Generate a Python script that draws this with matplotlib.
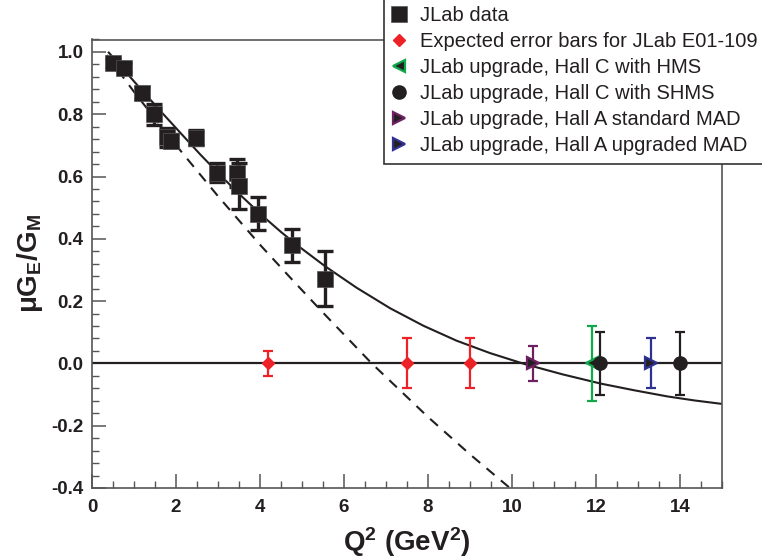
import matplotlib
matplotlib.use("Agg")
import matplotlib.pyplot as plt
from matplotlib.patches import Rectangle
from matplotlib.ticker import MultipleLocator, FormatStrFormatter

plt.rcParams['font.family'] = ['Liberation Sans', 'DejaVu Sans']
plt.rcParams['mathtext.fontset'] = 'custom'
plt.rcParams['mathtext.rm'] = 'Liberation Sans'
plt.rcParams['mathtext.bf'] = 'Liberation Sans:bold'
plt.rcParams['mathtext.it'] = 'Liberation Sans:italic'

# ---- existing JLab data ----
jlab_q2 = [0.49, 0.77, 1.18, 1.48, 1.78, 1.87, 2.47, 2.97, 3.46, 3.50, 3.96, 4.75, 5.55]
jlab_r = [0.965, 0.950, 0.868, 0.800, 0.726, 0.715, 0.725, 0.612, 0.612, 0.570, 0.480, 0.380, 0.272]
jlab_err = [0.012, 0.015, 0.02, 0.034, 0.03, 0.02, 0.025, 0.03, 0.044, 0.075, 0.053, 0.053, 0.088]

# ---- projected measurements (at ratio 0) ----
e01_q2 = [4.2, 7.5, 9.0]
e01_r = [0.0, 0.0, 0.0]
e01_err = [0.04, 0.08, 0.08]

hms_q2 = [11.9]
hms_r = [0.0]
hms_err = [0.12]

shms_q2 = [12.1, 14.0]
shms_r = [0.0, 0.0]
shms_err = [0.10, 0.10]

mad_std_q2 = [10.5]
mad_std_r = [0.0]
mad_std_err = [0.055]

mad_upg_q2 = [13.3]
mad_upg_r = [0.0]
mad_upg_err = [0.08]

# ---- curves ----
solid_q2 = [0.4, 0.75, 1.2, 1.7, 2.1, 2.57, 3.1, 3.6, 4.1, 4.5, 4.91, 5.55, 6.3, 7.1,
            7.89, 8.68, 9.48, 10.3, 11.2, 12.12, 12.9, 13.7, 14.35, 15.0]
solid_r = [0.998, 0.944, 0.875, 0.800, 0.741, 0.672, 0.598, 0.532, 0.469, 0.422, 0.377,
           0.312, 0.243, 0.177, 0.121, 0.073, 0.033, -0.002, -0.035, -0.065, -0.086, -0.106,
           -0.119, -0.130]

dashed_q2 = [0.35, 1.0, 1.5, 2.15, 3.0, 4.0, 4.71, 5.5, 6.66, 8.0, 9.0, 9.95]
dashed_r = [0.99, 0.872, 0.786, 0.676, 0.537, 0.381, 0.277, 0.163, 0.0, -0.172, -0.292, -0.40]

x_ticks = [0, 2, 4, 6, 8, 10, 12, 14]
y_ticks = [-0.4, -0.2, 0.0, 0.2, 0.4, 0.6, 0.8, 1.0]

labels = ["JLab data", "Expected error bars for JLab E01-109",
          "JLab upgrade, Hall C with HMS", "JLab upgrade, Hall C with SHMS",
          "JLab upgrade, Hall A standard MAD", "JLab upgrade, Hall A upgraded MAD"]

BLACK = '#231f20'
RED = '#ec2227'
GREEN = '#10a84a'
PURPLE = '#6e2161'
BLUE = '#2e3192'

fig = plt.figure(figsize=(7.62, 5.60), dpi=100)
ax = fig.add_axes([92/762, 1 - 488/560, 630/762, 448.5/560])

ax.set_xlim(0, 15)
ax.set_ylim(-0.4, 1.04)

# curves
ax.axhline(0.0, color=BLACK, lw=1.6, zorder=2)
ax.plot(solid_q2, solid_r, color=BLACK, lw=1.5, zorder=2)
ax.plot(dashed_q2, dashed_r, color=BLACK, lw=1.5, ls=(0, (5, 4)), zorder=2)

# error bars
ax.errorbar(jlab_q2, jlab_r, yerr=jlab_err, fmt='none', ecolor=BLACK, elinewidth=2.4,
            capsize=6, capthick=2.4, zorder=3)
ax.errorbar(e01_q2, e01_r, yerr=e01_err, fmt='none', ecolor=RED, elinewidth=1.6,
            capsize=3.8, capthick=1.6, zorder=3)
ax.errorbar(hms_q2, hms_r, yerr=hms_err, fmt='none', ecolor=GREEN, elinewidth=1.6,
            capsize=3.8, capthick=1.6, zorder=3)
ax.errorbar(shms_q2, shms_r, yerr=shms_err, fmt='none', ecolor=BLACK, elinewidth=1.6,
            capsize=3.8, capthick=1.6, zorder=3)
ax.errorbar(mad_std_q2, mad_std_r, yerr=mad_std_err, fmt='none', ecolor=PURPLE, elinewidth=1.6,
            capsize=3.8, capthick=1.6, zorder=3)
ax.errorbar(mad_upg_q2, mad_upg_r, yerr=mad_upg_err, fmt='none', ecolor=BLUE, elinewidth=1.6,
            capsize=3.8, capthick=1.6, zorder=3)

# markers
h1, = ax.plot(jlab_q2, jlab_r, ls='none', marker='s', ms=11, mfc=BLACK, mec='#555555',
              mew=0.5, zorder=4, label=labels[0])
h2, = ax.plot(e01_q2, e01_r, ls='none', marker='D', ms=6.5, mfc=RED, mec=RED, zorder=4,
              label=labels[1])
h3, = ax.plot(hms_q2, hms_r, ls='none', marker='<', ms=9, mfc=BLACK, mec=GREEN, mew=1.6,
              zorder=4, label=labels[2])
h4, = ax.plot(shms_q2, shms_r, ls='none', marker='o', ms=9.5, mfc=BLACK, mec=BLACK, zorder=5,
              label=labels[3])
h5, = ax.plot(mad_std_q2, mad_std_r, ls='none', marker='>', ms=9, mfc=BLACK, mec=PURPLE,
              mew=1.6, zorder=4, label=labels[4])
h6, = ax.plot(mad_upg_q2, mad_upg_r, ls='none', marker='>', ms=9, mfc=BLACK, mec=BLUE,
              mew=1.6, zorder=4, label=labels[5])

# axes styling
for side in ['left', 'right', 'top', 'bottom']:
    ax.spines[side].set_color('#555555')
    ax.spines[side].set_linewidth(1.2)
ax.set_xticks(x_ticks)
ax.set_yticks(y_ticks)
ax.yaxis.set_major_formatter(FormatStrFormatter('%.1f'))
ax.xaxis.set_minor_locator(MultipleLocator(0.5))
ax.yaxis.set_minor_locator(MultipleLocator(0.04))
ax.tick_params(which='both', direction='in', top=False, right=False, color='#555555')
ax.tick_params(which='major', length=10, width=1.1, labelsize=13.5, pad=6)
ax.tick_params(axis='x', which='major', pad=8)
ax.tick_params(which='minor', length=5, width=1.0)
for lab in ax.get_xticklabels() + ax.get_yticklabels():
    lab.set_fontweight('bold')
    lab.set_color(BLACK)

ax.set_xlabel(r'$\mathbf{Q^2\ (GeV^2)}$', fontsize=20, color=BLACK)
ax.set_ylabel(r'$\mathbf{\mu G_E/G_M}$', fontsize=20, color=BLACK)
ax.xaxis.set_label_coords(0.5, -0.082)
ax.yaxis.set_label_coords(-0.075, 0.5)

# legend box (extends past the right edge of the figure, as in the original)
box = Rectangle((384/762, 1 - 164/560), 0.6, 0.4, transform=fig.transFigure,
                facecolor='white', edgecolor='#333333', lw=1.2, zorder=4)
fig.add_artist(box)

leg = fig.legend(handles=[h1, h2, h3, h4, h5, h6], labels=labels, loc='upper left',
                 bbox_to_anchor=(384/762, 1 + 1/560), bbox_transform=fig.transFigure,
                 fontsize=14.5, frameon=False, borderpad=0.35,
                 handlelength=0.8, handletextpad=0.65, labelspacing=0.35, borderaxespad=0.0,
                 markerscale=1.0)
leg.set_zorder(5)
for t in leg.get_texts():
    t.set_color(BLACK)

fig.savefig('out.png', dpi=100)
